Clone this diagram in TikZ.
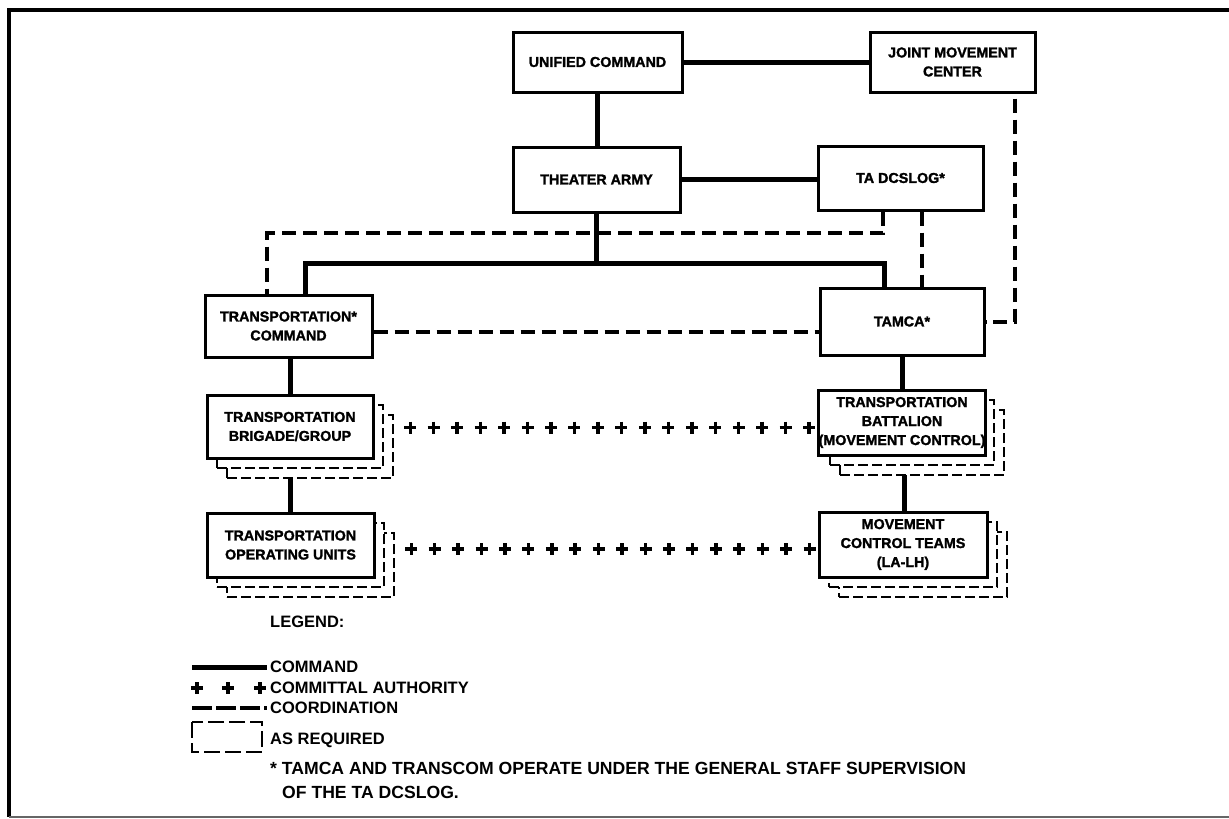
\documentclass[tikz,border=0pt]{standalone}
\usepackage{fontspec}
\setmainfont{Liberation Sans}
\newfontfamily\heavyfont[FakeBold=1.6]{Liberation Sans Bold}
\usetikzlibrary{calc,backgrounds}

\tikzset{
  unitbox/.style={draw, line width=3pt, fill=white, align=center, inner sep=0pt,
    font=\fontsize{14.3}{19}\heavyfont},
  shadowbox/.style={draw, line width=2.5pt, fill=white, dash pattern=on 10pt off 4pt, inner sep=0pt},
  command/.style={line width=5pt},
  coordination/.style={line width=4pt, dash pattern=on 14pt off 7pt},
  plusmark/.style={line width=3.5pt},
  legendtext/.style={anchor=west, inner sep=0pt, font=\fontsize{16.5}{19}\selectfont\bfseries},
}

% a unit with two dashed "as required" copies stacked behind it
\newcommand\stackedunit[5]{%
  \node[shadowbox, minimum width=#3pt, minimum height=#4pt] (#1-s2) at ($(#2)+(20,20)$) {};
  \node[shadowbox, minimum width=#3pt, minimum height=#4pt] (#1-s1) at ($(#2)+(10,10)$) {};
  \node[unitbox, minimum width=#3pt, minimum height=#4pt] (#1) at (#2) {#5};
}

\begin{document}
\begin{tikzpicture}[x=1pt, y=-1pt]
\useasboundingbox (0,0) rectangle (1229,819);

% frame
\draw[line width=4pt] (1229,10) -- (9,10) -- (9,817);
\draw[line width=1.5pt, black!60] (9,817) -- (1229,817);

% headquarters
\node[unitbox, minimum width=169pt, minimum height=60pt] (unified) at (597.5,62) {UNIFIED COMMAND};
\node[unitbox, minimum width=165pt, minimum height=60pt] (jmc) at (952.5,62) {JOINT MOVEMENT\\CENTER};
\node[unitbox, minimum width=167pt, minimum height=65pt] (theater) at (596.5,179.5) {THEATER ARMY};
\node[unitbox, minimum width=165pt, minimum height=64pt] (dcslog) at (900.5,178) {TA DCSLOG*};
\node[unitbox, minimum width=167pt, minimum height=62pt] (transcom) at (288.5,326) {TRANSPORTATION*\\COMMAND};
\node[unitbox, minimum width=164pt, minimum height=67pt] (tamca) at (902,321.5) {TAMCA*};

% subordinate units
\stackedunit{brig}{290,426.5}{166}{63}{TRANSPORTATION\\BRIGADE/GROUP}
\stackedunit{oper}{290.5,545}{167}{64}{TRANSPORTATION\\OPERATING UNITS}
\stackedunit{batt}{902,422.5}{164}{65}{TRANSPORTATION\\BATTALION\\(MOVEMENT CONTROL)}
\stackedunit{mct}{903,544.5}{168}{65}{MOVEMENT\\CONTROL TEAMS\\(LA-LH)}

\coordinate (bus) at (595,263);
\coordinate (bendL) at (267,233);

\begin{pgfonlayer}{background}
  % command lines
  \draw[command] (unified.east) -- (unified.east -| jmc.west);
  \draw[command] (unified.south) -- (unified.south |- theater.north);
  \draw[command] (theater.east) -- (theater.east -| dcslog.west);
  \draw[command] (theater.south) -- (theater.south |- bus);
  \draw[command] ([xshift=16.5pt]transcom.north) -- ([xshift=16.5pt]transcom.north |- bus)
     -- ([xshift=-18pt]tamca.north |- bus) -- ([xshift=-18pt]tamca.north);
  \draw[command] ([xshift=2pt]transcom.south) -- ([xshift=2pt]transcom.south |- brig.north);
  \draw[command] (tamca.south) -- (tamca.south |- batt.north);
  \draw[command] (brig.south) -- (brig.south |- oper.north);
  \draw[command] ([xshift=2pt]batt.south) -- ([xshift=2pt]batt.south |- mct.north);

  % coordination lines
  \draw[coordination] ([xshift=-17.5pt]dcslog.south) |- (bendL) -- (bendL |- transcom.north);
  \draw[coordination] ([xshift=21pt]dcslog.south) -- ([xshift=21pt]dcslog.south |- tamca.north);
  \draw[coordination] ([xshift=62.5pt,yshift=-5pt]jmc.south) |- (tamca.east);
  \draw[coordination] ([yshift=-6pt]transcom.east) -- ([yshift=-6pt]transcom.east -| tamca.west);
\end{pgfonlayer}

% committal authority
\coordinate (p1a) at ($(brig-s2.east |- brig.center)+(16,1)$);
\coordinate (p1b) at ($(brig.center -| batt.west)+(-8,1)$);
\coordinate (p2a) at ($(oper-s2.east |- oper.center)+(16,4)$);
\coordinate (p2b) at ($(oper.center -| mct.west)+(-8,4)$);
\foreach \i in {0,...,17} {
  \draw[plusmark] ($(p1a)!\i/17!(p1b)$) +(-6,0) -- +(6,0) +(0,-6) -- +(0,6);
  \draw[plusmark] ($(p2a)!\i/17!(p2b)$) +(-6,0) -- +(6,0) +(0,-6) -- +(0,6);
}

% legend
\node[legendtext] (legend) at (270,622) {LEGEND:};
\coordinate (l1) at (192,667);
\coordinate (l2) at (192,688);
\coordinate (l3) at (192,708);
\draw[command] (l1) -- ++(75,0);
\node[legendtext] (lcmd) at (270,667) {COMMAND};
\foreach \dx in {5,36,68}
  \draw[plusmark] ($(l2)+(\dx,0)$) +(-6,0) -- +(6,0) +(0,-6) -- +(0,6);
\node[legendtext] (lcomm) at (270,688) {COMMITTAL AUTHORITY};
\draw[coordination, line width=3.5pt, dash pattern=on 20pt off 4pt] (l3) -- ++(75,0);
\node[legendtext] (lcoord) at (270,708) {COORDINATION};
\draw[line width=2.5pt, dash pattern=on 16pt off 5pt] (192,722) rectangle (262,752);
\node[legendtext] (lreq) at (270,740) {AS REQUIRED};
\node[legendtext, font=\fontsize{17.6}{20}\selectfont\bfseries] (note1) at (270,768) {* TAMCA AND TRANSCOM OPERATE UNDER THE GENERAL STAFF SUPERVISION};
\node[legendtext, font=\fontsize{17.6}{20}\selectfont\bfseries] (note2) at (282,792) {OF THE TA DCSLOG.};
\end{tikzpicture}
\end{document}
